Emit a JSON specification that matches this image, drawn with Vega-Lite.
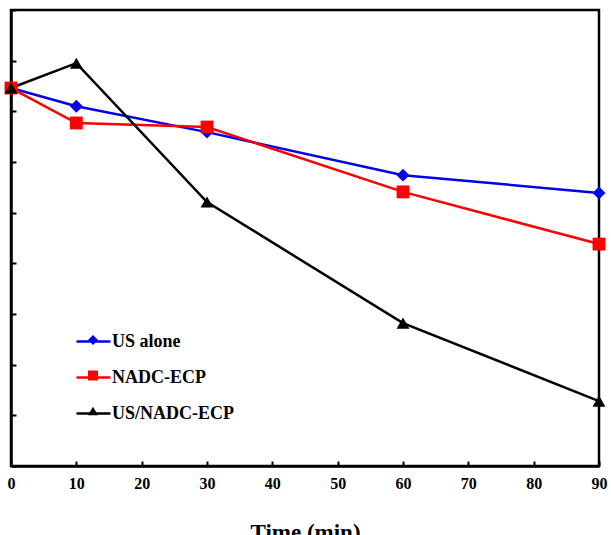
{
  "$schema": "https://vega.github.io/schema/vega-lite/v6.json",
  "width": 588,
  "height": 456,
  "autosize": {"type": "none"},
  "padding": {"left": 11, "top": 10, "right": 12, "bottom": 69},
  "background": "white",
  "config": {
    "view": {"stroke": "black", "strokeWidth": 2.5},
    "font": "Liberation Serif"
  },
  "data": {
    "values": [
      {"time": 0, "series": "US alone", "value": 7.46},
      {"time": 10, "series": "US alone", "value": 7.10},
      {"time": 30, "series": "US alone", "value": 6.59},
      {"time": 60, "series": "US alone", "value": 5.74},
      {"time": 90, "series": "US alone", "value": 5.39},
      {"time": 0, "series": "NADC-ECP", "value": 7.46},
      {"time": 10, "series": "NADC-ECP", "value": 6.77},
      {"time": 30, "series": "NADC-ECP", "value": 6.69},
      {"time": 60, "series": "NADC-ECP", "value": 5.41},
      {"time": 90, "series": "NADC-ECP", "value": 4.38},
      {"time": 0, "series": "US/NADC-ECP", "value": 7.46},
      {"time": 10, "series": "US/NADC-ECP", "value": 7.95},
      {"time": 30, "series": "US/NADC-ECP", "value": 5.21},
      {"time": 60, "series": "US/NADC-ECP", "value": 2.82},
      {"time": 90, "series": "US/NADC-ECP", "value": 1.28}
    ]
  },
  "encoding": {
    "x": {
      "field": "time", "type": "quantitative",
      "scale": {"domain": [0, 90], "nice": false, "zero": false},
      "axis": {
        "title": "Time (min)", "values": [0,10,20,30,40,50,60,70,80,90],
        "domainColor": "black", "domainWidth": 2.5,
        "tickColor": "black", "tickWidth": 2, "tickSize": -5,
        "labelFont": "Liberation Serif", "labelFontWeight": "bold", "labelFontSize": 16, "labelColor": "black",
        "labelPadding": 14, "labelFlush": false,
        "titleFont": "Liberation Serif", "titleFontWeight": "bold", "titleFontSize": 23, "titleColor": "black",
        "titlePadding": 30, "grid": false
      }
    },
    "y": {
      "field": "value", "type": "quantitative",
      "scale": {"domain": [0, 9], "nice": false, "zero": false},
      "axis": {
        "title": null, "labels": false, "values": [0,1,2,3,4,5,6,7,8,9],
        "domainColor": "black", "domainWidth": 2.5,
        "tickColor": "black", "tickWidth": 2, "tickSize": -5, "grid": false
      }
    }
  },
  "layer": [
    {
      "mark": {"type": "line", "strokeWidth": 2.5},
      "encoding": {
        "stroke": {
          "field": "series", "type": "nominal",
          "sort": ["US alone", "NADC-ECP", "US/NADC-ECP"],
          "scale": {"range": ["#0000ee", "#ff0000", "#000000"]},
          "legend": {
            "title": null, "orient": "none", "legendX": 64, "legendY": 313,
            "symbolType": "stroke", "symbolSize": 1156, "symbolStrokeWidth": 2.5,
            "labelFont": "Liberation Serif", "labelFontWeight": "bold", "labelFontSize": 18, "labelColor": "black",
            "labelOffset": 0, "rowPadding": 8, "padding": 0
          }
        }
      }
    },
    {
      "mark": {"type": "point", "filled": true, "size": 165, "opacity": 1},
      "encoding": {
        "fill": {
          "field": "series", "type": "nominal",
          "scale": {"domain": ["US alone", "NADC-ECP", "US/NADC-ECP"], "range": ["#0000ee", "#ff0000", "#000000"]},
          "legend": {
            "title": null, "orient": "none", "legendX": 73, "legendY": 321,
            "symbolSize": 100, "symbolStrokeWidth": 0,
            "labelFont": "Liberation Serif", "labelFontWeight": "bold", "labelFontSize": 18, "labelColor": "transparent",
            "labelExpr": "''", "labelOffset": 3, "rowPadding": 17.5, "padding": 0
          }
        },
        "shape": {
          "field": "series", "type": "nominal",
          "scale": {"domain": ["US alone", "NADC-ECP", "US/NADC-ECP"], "range": ["diamond", "square", "triangle-up"]},
          "legend": {
            "title": null, "orient": "none", "legendX": 73, "legendY": 321,
            "symbolSize": 100, "symbolStrokeWidth": 0,
            "labelFont": "Liberation Serif", "labelFontWeight": "bold", "labelFontSize": 18, "labelColor": "transparent",
            "labelExpr": "''", "labelOffset": 3, "rowPadding": 17.5, "padding": 0
          }
        }
      }
    }
  ]
}
